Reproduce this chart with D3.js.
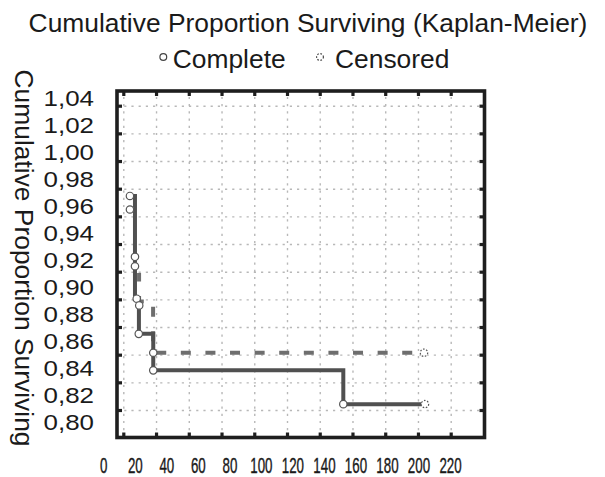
<!DOCTYPE html>
<html>
<head>
<meta charset="utf-8">
<script src="https://cdn.jsdelivr.net/npm/d3@7/dist/d3.min.js"></script>
<style>
  body { margin: 0; background: #fff; }
  svg text { font-family: "Liberation Sans", Arial, sans-serif; fill: #1a1a1a; }
  .grid line { stroke: #b8b8b8; stroke-width: 1.4; stroke-dasharray: 2.2,5; }
  .grid path, .frameTicks path { display: none; }
  .frameTicks line { stroke: #1e1e1e; stroke-width: 3.2; }
</style>
</head>
<body>
<div id="chart"></div>
<script>
// tick labels
const xTickLabels = [0, 20, 40, 60, 80, 100, 120, 140, 160, 180, 200, 220];
const yTickLabels = [0.80, 0.82, 0.84, 0.86, 0.88, 0.90, 0.92, 0.94, 0.96, 0.98, 1.00, 1.02, 1.04];
const legendNames = ["Complete", "Censored"];

// step line of the complete cases (solid)
const solidTime = [16.9, 20.1, 22.6, 31.7, 152.3, 204.0];
const solidSurv = [0.967, 0.891, 0.865, 0.838, 0.813, 0.813];

// step line drawn dashed
const dashedTime = [22.7, 22.7, 31.6, 203.5];
const dashedSurv = [0.910, 0.889, 0.851, 0.851];

// complete observations (o)
const completeTime = [16.9, 16.9, 20.1, 20.1, 21.2, 22.8, 22.5, 31.7, 31.7, 152.3];
const completeSurv = [0.967, 0.957, 0.922, 0.915, 0.891, 0.886, 0.865, 0.851, 0.838, 0.813];

// censored observations
const censoredTime = [203.5, 204.1];
const censoredSurv = [0.851, 0.813];

const width = 605, height = 477;
const frame = { left: 117, top: 91, right: 484.5, bottom: 437.5 };

const svg = d3.select("#chart").append("svg")
  .attr("width", width)
  .attr("height", height);

// scales for the values (labels)
const x = d3.scaleLinear().domain([0, 220]).range([103.3, 450]);
const y = d3.scaleLinear().domain([0.80, 1.04]).range([421.7, 97.3]);

// scales for grid / frame tick marks (they sit a bit off the labels in the original)
const xGrid = d3.scaleLinear().domain([0, 10]).range([123.3, 450.7]);
const yGrid = d3.scaleLinear().domain([0, 11]).range([105.7, 410]);

// grid lines
svg.append("g").attr("class", "grid")
  .attr("transform", `translate(0,${frame.bottom})`)
  .call(d3.axisBottom(xGrid).tickValues(d3.range(11))
    .tickSize(-(frame.bottom - frame.top)).tickFormat(""));

svg.append("g").attr("class", "grid")
  .attr("transform", `translate(${frame.left},0)`)
  .call(d3.axisLeft(yGrid).tickValues(d3.range(12))
    .tickSize(-(frame.right - frame.left)).tickFormat(""));

// lines
const line = d3.line()
  .x(d => x(d[0]))
  .y(d => y(d[1]))
  .curve(d3.curveStepAfter);

svg.append("path")
  .datum(dashedTime.map((t, i) => [t, dashedSurv[i]]))
  .attr("d", line)
  .attr("fill", "none")
  .attr("stroke", "#6e6e6e")
  .attr("stroke-width", 4)
  .attr("stroke-dasharray", "10,14.6")
  .attr("stroke-dashoffset", 1.5);

svg.append("path")
  .datum(solidTime.map((t, i) => [t, solidSurv[i]]))
  .attr("d", line)
  .attr("fill", "none")
  .attr("stroke", "#505050")
  .attr("stroke-width", 4);

// markers
svg.selectAll(".complete")
  .data(completeTime.map((t, i) => [t, completeSurv[i]]))
  .enter().append("circle")
  .attr("class", "complete")
  .attr("cx", d => x(d[0]))
  .attr("cy", d => y(d[1]))
  .attr("r", 3.7)
  .attr("fill", "#fff")
  .attr("stroke", "#555")
  .attr("stroke-width", 1.2);

svg.selectAll(".censored")
  .data(censoredTime.map((t, i) => [t, censoredSurv[i]]))
  .enter().append("circle")
  .attr("class", "censored")
  .attr("cx", d => x(d[0]))
  .attr("cy", d => y(d[1]))
  .attr("r", 3.7)
  .attr("fill", "#fff")
  .attr("stroke", "#555")
  .attr("stroke-width", 1.2)
  .attr("stroke-dasharray", "1.6,1.6");

// frame
svg.append("rect")
  .attr("x", frame.left)
  .attr("y", frame.top)
  .attr("width", frame.right - frame.left)
  .attr("height", frame.bottom - frame.top)
  .attr("fill", "none")
  .attr("stroke", "#1e1e1e")
  .attr("stroke-width", 3.6);

// small inward tick marks on all four sides
svg.append("g").attr("class", "frameTicks")
  .attr("transform", `translate(0,${frame.bottom})`)
  .call(d3.axisBottom(xGrid).tickValues(d3.range(11)).tickSize(-5).tickFormat(""));
svg.append("g").attr("class", "frameTicks")
  .attr("transform", `translate(0,${frame.top})`)
  .call(d3.axisTop(xGrid).tickValues(d3.range(11)).tickSize(-5).tickFormat(""));
svg.append("g").attr("class", "frameTicks")
  .attr("transform", `translate(${frame.left},0)`)
  .call(d3.axisLeft(yGrid).tickValues(d3.range(12)).tickSize(-5).tickFormat(""));
svg.append("g").attr("class", "frameTicks")
  .attr("transform", `translate(${frame.right},0)`)
  .call(d3.axisRight(yGrid).tickValues(d3.range(12)).tickSize(-5).tickFormat(""));

// y tick labels
const yAxis = svg.append("g")
  .attr("transform", "translate(94,0)")
  .call(d3.axisLeft(y).tickValues(yTickLabels).tickSize(0).tickPadding(0)
    .tickFormat(d => d3.format(".2f")(d).replace(".", ",")));
yAxis.select(".domain").remove();
yAxis.selectAll("text")
  .attr("font-size", 22.4)
  .attr("dy", "0.36em")
  .attr("fill", "#1a1a1a")
  .attr("textLength", 50.5)
  .attr("lengthAdjust", "spacingAndGlyphs");

// x tick labels (condensed digits)
const xAxis = svg.append("g")
  .attr("transform", "translate(0,472.5)")
  .call(d3.axisBottom(x).tickValues(xTickLabels).tickSize(0).tickPadding(0));
xAxis.select(".domain").remove();
xAxis.selectAll("text")
  .attr("y", 0)
  .attr("dy", 0)
  .attr("font-size", 21.5)
  .attr("fill", "#1a1a1a")
  .attr("stroke", "#1a1a1a")
  .attr("stroke-width", 0.4)
  .attr("transform", "scale(0.62,1)");

// title
svg.append("text")
  .attr("x", 308)
  .attr("y", 32)
  .attr("text-anchor", "middle")
  .attr("font-size", 26.4)
  .text("Cumulative Proportion Surviving (Kaplan-Meier)");

// y axis title (reads top to bottom)
svg.append("text")
  .attr("transform", "translate(15,258) rotate(90)")
  .attr("text-anchor", "middle")
  .attr("font-size", 26.4)
  .text("Cumulative Proportion Surviving");

// legend
const legendX = [163.3, 320];
const legend = svg.selectAll(".legend")
  .data(legendNames)
  .enter().append("g")
  .attr("class", "legend")
  .attr("transform", (d, i) => `translate(${legendX[i]},57)`);

legend.append("circle")
  .attr("r", 3.4)
  .attr("fill", "#fff")
  .attr("stroke", "#444")
  .attr("stroke-width", 1.2)
  .attr("stroke-dasharray", (d, i) => i === 1 ? "1.6,1.6" : null);

legend.append("text")
  .attr("x", (d, i) => i === 0 ? 9.4 : 15)
  .attr("y", 11.3)
  .attr("font-size", 26.4)
  .text(d => d);
</script>
</body>
</html>
